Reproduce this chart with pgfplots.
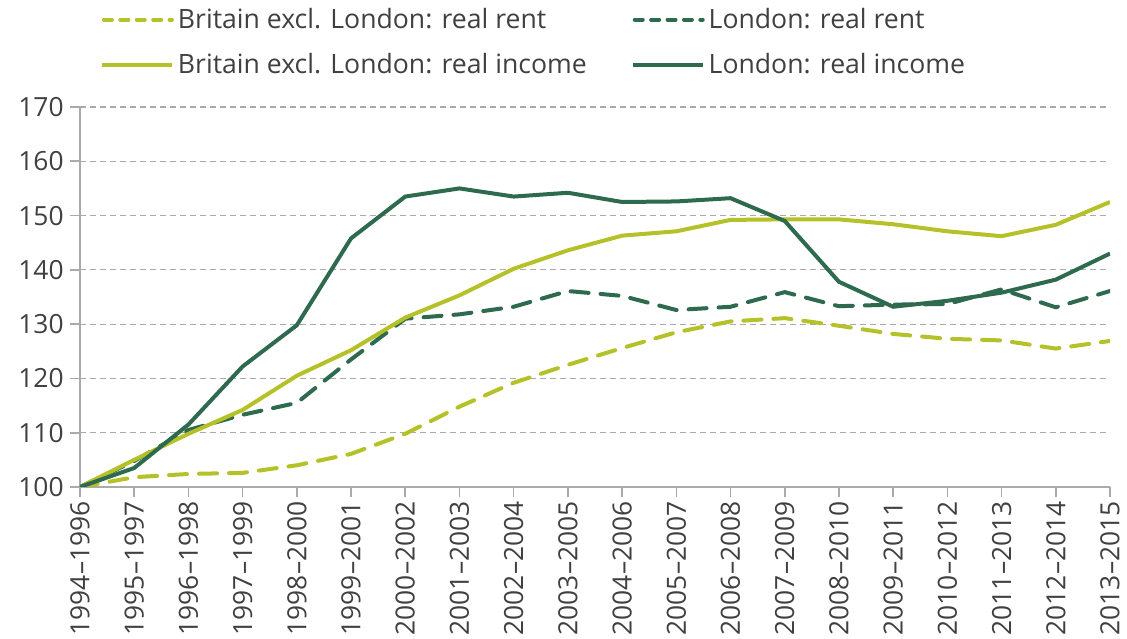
\documentclass[border=0pt]{standalone}
\usepackage{fontspec}
\setmainfont{Open Sans}
\usepackage{pgfplots}
\pgfplotsset{compat=1.18}
\definecolor{lightg}{RGB}{181,193,40}
\definecolor{darkg}{RGB}{46,106,78}
\definecolor{txt}{RGB}{64,64,64}
\definecolor{gridc}{RGB}{170,170,170}
\pgfplotsset{
  dashleg/.style={legend image code/.code={\draw[##1, dash pattern=on 4pt off 4.2pt] (1pt,0pt) -- (35pt,0pt);}},
  solidleg/.style={legend image code/.code={\draw[##1] (0pt,0pt) -- (35pt,0pt);}},
}
\begin{document}
\begin{tikzpicture}
\begin{axis}[
  name=ax,
  scale only axis,
  width=515pt, height=190pt,
  xmin=0, xmax=19, ymin=100, ymax=170,
  ytick={100,110,...,170},
  xtick={0,...,19},
  xticklabels={1994\textendash1996,1995\textendash1997,1996\textendash1998,1997\textendash1999,1998\textendash2000,1999\textendash2001,2000\textendash2002,2001\textendash2003,2002\textendash2004,2003\textendash2005,2004\textendash2006,2005\textendash2007,2006\textendash2008,2007\textendash2009,2008\textendash2010,2009\textendash2011,2010\textendash2012,2011\textendash2013,2012\textendash2014,2013\textendash2015},
  axis x line*=bottom, axis y line*=left,
  axis line style={gridc, line width=0.8pt, -},
  tick style={gridc, line width=0.8pt},
  tick align=outside,
  major tick length=5pt,
  ymajorgrids,
  major grid style={gridc, line width=0.6pt, dash pattern=on 3pt off 2pt},
  tick label style={font=\fontsize{13.2}{15}\selectfont, text=txt},
  /pgf/number format/assume math mode=true,
  xticklabel style={rotate=90, anchor=east, inner sep=2pt},
  yticklabel style={inner sep=3pt},
  legend columns=2,
  legend cell align=left,
  legend style={draw=none, fill=none, anchor=north west, at={(0.019,1.272)},
    font=\fontsize{13.3}{15}\selectfont, text=txt, inner sep=0pt,
    /tikz/every even column/.append style={column sep=20pt},
    row sep=7pt},
]
\addplot[lightg, line width=2pt, dash pattern=on 9pt off 6pt, line cap=round, dashleg]
 coordinates {(0,100) (1,101.8) (2,102.4) (3,102.6) (4,104) (5,106.1) (6,109.8) (7,114.8) (8,119.2) (9,122.5) (10,125.6) (11,128.5) (12,130.5) (13,131.1) (14,129.7) (15,128.2) (16,127.3) (17,127) (18,125.5) (19,126.9)};
\addlegendentry{Britain excl. London: real rent}
\addplot[darkg, line width=2pt, dash pattern=on 9pt off 6pt, line cap=round, dashleg]
 coordinates {(0,100) (1,104.8) (2,110.5) (3,113.3) (4,115.5) (5,123.5) (6,131) (7,131.8) (8,133.2) (9,136.1) (10,135.2) (11,132.6) (12,133.2) (13,135.9) (14,133.3) (15,133.6) (16,133.7) (17,136.4) (18,133.1) (19,136.1)};
\addlegendentry{London: real rent}
\addplot[lightg, line width=2pt, solidleg]
 coordinates {(0,100) (1,105) (2,109.8) (3,114.2) (4,120.5) (5,125.2) (6,131.2) (7,135.3) (8,140.2) (9,143.6) (10,146.3) (11,147.1) (12,149.2) (13,149.3) (14,149.3) (15,148.4) (16,147.1) (17,146.2) (18,148.3) (19,152.5)};
\addlegendentry{Britain excl. London: real income}
\addplot[darkg, line width=2pt, solidleg]
 coordinates {(0,100) (1,103.5) (2,111.5) (3,122.2) (4,129.8) (5,145.8) (6,153.5) (7,155) (8,153.5) (9,154.2) (10,152.5) (11,152.6) (12,153.2) (13,149) (14,137.8) (15,133.2) (16,134.3) (17,135.8) (18,138.2) (19,143)};
\addlegendentry{London: real income}
\end{axis}
\pgfresetboundingbox
\path ([shift={(-40pt,-76pt)}]ax.south west) rectangle ([shift={(8.5pt,53.5pt)}]ax.north east);
\end{tikzpicture}
\end{document}
